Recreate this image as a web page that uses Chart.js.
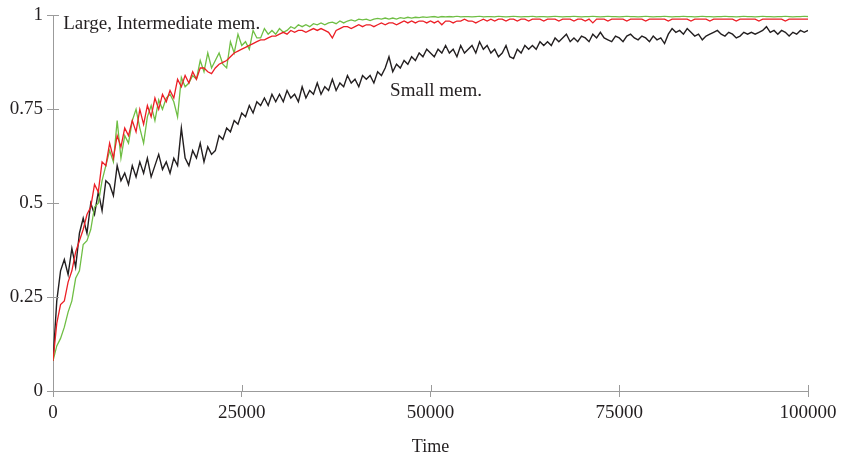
<!DOCTYPE html>
<html>
<head>
<meta charset="utf-8">
<script src="https://cdn.jsdelivr.net/npm/chart.js@4.4.1/dist/chart.umd.min.js"></script>
<style>
  html, body { margin: 0; padding: 0; background: #fff; }
  #wrap { width: 842px; height: 459px; }
</style>
</head>
<body>
<div id="wrap"><canvas id="chart" width="842" height="459"></canvas></div>
<script>
// sample step of the runs (time units)
const STEP = 500;

const xTickLabels = ['0', '25000', '50000', '75000', '100000'];
const yTickLabels = ['0', '0.25', '0.5', '0.75', '1'];

// Small mem. (black)
const smallMem = [
  0.08, 0.24, 0.32, 0.35, 0.31, 0.38, 0.33, 0.42, 0.46, 0.42,
  0.50, 0.47, 0.53, 0.48, 0.56, 0.55, 0.52, 0.60, 0.56, 0.58,
  0.55, 0.60, 0.57, 0.61, 0.58, 0.62, 0.57, 0.60, 0.63, 0.59,
  0.61, 0.58, 0.62, 0.60, 0.70, 0.62, 0.60, 0.64, 0.62, 0.66,
  0.61, 0.65, 0.63, 0.64, 0.68, 0.67, 0.70, 0.69, 0.72, 0.71,
  0.74, 0.73, 0.76, 0.74, 0.77, 0.76, 0.78, 0.76, 0.79, 0.77,
  0.79, 0.77, 0.80, 0.78, 0.79, 0.77, 0.81, 0.78, 0.80, 0.79,
  0.82, 0.79, 0.81, 0.80, 0.83, 0.80, 0.82, 0.81, 0.84, 0.82,
  0.83, 0.81, 0.84, 0.83, 0.84, 0.82, 0.85, 0.84, 0.86, 0.89,
  0.85, 0.87, 0.86, 0.88, 0.87, 0.89, 0.88, 0.90, 0.89, 0.91,
  0.90, 0.89, 0.91, 0.90, 0.92, 0.90, 0.91, 0.89, 0.92, 0.90,
  0.91, 0.92, 0.90, 0.93, 0.91, 0.92, 0.90, 0.91, 0.89, 0.90,
  0.92, 0.89, 0.885, 0.91, 0.90, 0.92, 0.91, 0.92, 0.91, 0.93,
  0.92, 0.93, 0.92, 0.94, 0.93, 0.94, 0.95, 0.93, 0.94, 0.93,
  0.945, 0.94, 0.93, 0.95, 0.94, 0.955, 0.94, 0.935, 0.93, 0.945,
  0.94, 0.93, 0.945, 0.95, 0.94, 0.935, 0.945, 0.94, 0.93, 0.945,
  0.935, 0.94, 0.925, 0.95, 0.965, 0.955, 0.96, 0.95, 0.965, 0.955,
  0.945, 0.95, 0.935, 0.945, 0.95, 0.955, 0.96, 0.95, 0.945, 0.955,
  0.95, 0.94, 0.945, 0.955, 0.95, 0.955, 0.95, 0.955, 0.96, 0.97,
  0.955, 0.96, 0.95, 0.96, 0.955, 0.945, 0.955, 0.95, 0.96, 0.955,
  0.96
];

// Intermediate mem. (red)
const interMem = [
  0.08, 0.18, 0.23, 0.24, 0.29, 0.32, 0.37, 0.40, 0.43, 0.47,
  0.49, 0.55, 0.53, 0.61, 0.60, 0.66, 0.62, 0.68, 0.65, 0.70,
  0.68, 0.72, 0.69, 0.75, 0.71, 0.76, 0.73, 0.78, 0.75, 0.79,
  0.77, 0.80, 0.78, 0.83, 0.81, 0.84, 0.82, 0.85, 0.83, 0.86,
  0.86, 0.85, 0.845, 0.86, 0.87, 0.875, 0.88, 0.89, 0.90, 0.905,
  0.91, 0.915, 0.92, 0.925, 0.93, 0.935, 0.935, 0.94, 0.945, 0.945,
  0.95, 0.955, 0.95, 0.96, 0.955, 0.96, 0.96, 0.955, 0.96, 0.965,
  0.96, 0.965, 0.96, 0.955, 0.94, 0.96, 0.965, 0.97, 0.97, 0.965,
  0.97, 0.975, 0.97, 0.975, 0.975, 0.97, 0.975, 0.98, 0.975, 0.98,
  0.98, 0.975, 0.98, 0.985, 0.98, 0.985, 0.98, 0.985, 0.985, 0.98,
  0.985, 0.98, 0.985, 0.975, 0.985, 0.985, 0.98, 0.985, 0.985, 0.99,
  0.985, 0.985, 0.98, 0.985, 0.99, 0.985, 0.99, 0.985, 0.99, 0.99,
  0.985, 0.99, 0.99, 0.985, 0.99, 0.99, 0.985, 0.99, 0.99, 0.99,
  0.985, 0.99, 0.99, 0.99, 0.985, 0.99, 0.99, 0.99, 0.985, 0.99,
  0.99, 0.985, 0.99, 0.98, 0.99, 0.99, 0.99, 0.985, 0.99, 0.99,
  0.99, 0.99, 0.985, 0.99, 0.99, 0.99, 0.99, 0.985, 0.99, 0.99,
  0.99, 0.99, 0.99, 0.985, 0.99, 0.99, 0.99, 0.99, 0.99, 0.985,
  0.99, 0.99, 0.99, 0.99, 0.985, 0.99, 0.99, 0.99, 0.99, 0.99,
  0.99, 0.985, 0.99, 0.99, 0.99, 0.99, 0.99, 0.985, 0.99, 0.99,
  0.99, 0.99, 0.99, 0.99, 0.985, 0.99, 0.99, 0.99, 0.99, 0.99,
  0.99
];

// Large mem. (green)
const largeMem = [
  0.08, 0.12, 0.14, 0.17, 0.21, 0.24, 0.30, 0.32, 0.39, 0.40,
  0.43, 0.49, 0.50, 0.56, 0.60, 0.64, 0.61, 0.72, 0.62, 0.68,
  0.66, 0.72, 0.75, 0.70, 0.66, 0.73, 0.76, 0.72, 0.775, 0.75,
  0.78, 0.79, 0.77, 0.73, 0.835, 0.81, 0.82, 0.84, 0.83, 0.88,
  0.85, 0.90, 0.86, 0.88, 0.90, 0.87, 0.86, 0.93, 0.90, 0.95,
  0.92, 0.93, 0.91, 0.96, 0.94, 0.94, 0.965, 0.95, 0.96, 0.95,
  0.965, 0.955, 0.96, 0.97, 0.965, 0.975, 0.97, 0.975, 0.97, 0.978,
  0.975, 0.98, 0.975, 0.98, 0.982, 0.978, 0.985, 0.98, 0.985, 0.988,
  0.985, 0.99, 0.988, 0.99, 0.986, 0.99, 0.992, 0.99, 0.993, 0.99,
  0.993, 0.99, 0.994, 0.992, 0.995, 0.993, 0.995, 0.994, 0.996, 0.995,
  0.996, 0.997, 0.995, 0.997, 0.996, 0.997, 0.996, 0.998, 0.996, 0.997,
  0.997, 0.996, 0.997, 0.998, 0.996, 0.997, 0.997, 0.996, 0.998, 0.997,
  0.996, 0.997, 0.998, 0.997, 0.996, 0.997, 0.997, 0.998, 0.996, 0.997,
  0.997, 0.996, 0.997, 0.998, 0.997, 0.996, 0.997, 0.997, 0.998, 0.997,
  0.996, 0.997, 0.997, 0.998, 0.997, 0.996, 0.997, 0.998, 0.997, 0.997,
  0.996, 0.997, 0.998, 0.997, 0.997, 0.996, 0.997, 0.998, 0.997, 0.996,
  0.997, 0.997, 0.998, 0.997, 0.996, 0.997, 0.997, 0.998, 0.997, 0.997,
  0.996, 0.997, 0.998, 0.997, 0.997, 0.996, 0.997, 0.997, 0.998, 0.997,
  0.997, 0.996, 0.997, 0.998, 0.997, 0.997, 0.996, 0.997, 0.998, 0.997,
  0.997, 0.996, 0.997, 0.997, 0.998, 0.997, 0.996, 0.997, 0.997, 0.998,
  0.997
];

const annotations = [
  { text: 'Large, Intermediate mem.', x: 1350, y: 0.965 },
  { text: 'Small mem.', x: 44650, y: 0.785 }
];

const AXIS = '#9b9b9b';
const INK = '#231f20';
const FONT = "'Liberation Serif', 'Times New Roman', serif";

const toPoints = (vals) => vals.map((v, i) => ({ x: i * STEP, y: v }));

// ticks on the plot side of the axes + text labels
const extrasPlugin = {
  id: 'extras',
  afterDraw(chart) {
    const { ctx, scales: { x, y } } = chart;
    ctx.save();
    ctx.strokeStyle = AXIS;
    ctx.lineWidth = 1;
    ctx.beginPath();
    x.ticks.forEach((t) => {
      const px = Math.round(x.getPixelForValue(t.value)) + 0.5;
      ctx.moveTo(px, y.bottom);
      ctx.lineTo(px, y.bottom - 6);
    });
    y.ticks.forEach((t) => {
      const py = Math.round(y.getPixelForValue(t.value)) + 0.5;
      ctx.moveTo(x.left, py);
      ctx.lineTo(x.left + 6, py);
    });
    ctx.stroke();

    ctx.fillStyle = INK;
    ctx.font = `19px ${FONT}`;
    ctx.textBaseline = 'alphabetic';
    ctx.textAlign = 'left';
    annotations.forEach((a) => {
      ctx.fillText(a.text, x.getPixelForValue(a.x), y.getPixelForValue(a.y));
    });
    ctx.restore();
  }
};

new Chart(document.getElementById('chart'), {
  type: 'line',
  data: {
    datasets: [
      {
        label: 'Intermediate mem.',
        data: toPoints(interMem),
        borderColor: '#ec1f26',
        borderWidth: 1.3,
        pointRadius: 0,
        tension: 0
      },
      {
        label: 'Large mem.',
        data: toPoints(largeMem),
        borderColor: '#6fbe44',
        borderWidth: 1.3,
        pointRadius: 0,
        tension: 0
      },
      {
        label: 'Small mem.',
        data: toPoints(smallMem),
        borderColor: '#231f20',
        borderWidth: 1.4,
        pointRadius: 0,
        tension: 0
      }
    ]
  },
  options: {
    responsive: false,
    animation: false,
    events: [],
    layout: { padding: { top: 15, right: 34, bottom: 0, left: 0 } },
    plugins: {
      legend: { display: false },
      tooltip: { enabled: false }
    },
    scales: {
      x: {
        type: 'linear',
        min: 0,
        max: 100000,
        afterFit: (s) => { s.height = 68; },
        afterBuildTicks: (s) => {
          s.ticks = xTickLabels.map((l) => ({ value: Number(l) }));
        },
        ticks: {
          color: INK,
          font: { family: FONT, size: 19 },
          padding: 5,
          maxRotation: 0,
          callback: (v, i) => xTickLabels[i]
        },
        grid: {
          drawOnChartArea: false,
          color: AXIS,
          tickLength: 6,
          tickColor: AXIS
        },
        border: { color: AXIS, width: 1 },
        title: {
          display: true,
          text: 'Time',
          color: INK,
          font: { family: FONT, size: 18 },
          padding: { top: 0, bottom: 1 }
        }
      },
      y: {
        type: 'linear',
        min: 0,
        max: 1,
        afterFit: (s) => { s.width = 53; },
        afterBuildTicks: (s) => {
          s.ticks = yTickLabels.map((l) => ({ value: Number(l) }));
        },
        ticks: {
          color: INK,
          font: { family: FONT, size: 19 },
          padding: 4,
          callback: (v, i) => yTickLabels[i]
        },
        grid: {
          drawOnChartArea: false,
          color: AXIS,
          tickLength: 6,
          tickColor: AXIS
        },
        border: { color: AXIS, width: 1 }
      }
    }
  },
  plugins: [extrasPlugin]
});
</script>
</body>
</html>
